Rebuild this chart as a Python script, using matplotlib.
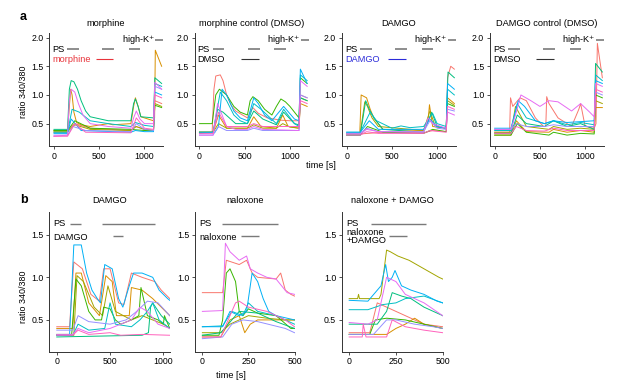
import matplotlib
matplotlib.use("Agg")
import matplotlib.pyplot as plt

plt.rcParams['font.family'] = ['Liberation Sans', 'DejaVu Sans']
plt.rcParams['font.size'] = 6.6

# trace colours, same order in every panel
palette = ['#F8766D', '#D89000', '#A3A500', '#39B600', '#00BF7D',
           '#00BFC4', '#00B0F6', '#9590FF', '#E76BF3', '#FF62BC']

# ---- panel a: morphine ----
a1 = [
    ([0, 150, 170, 230, 400, 850, 900, 1000, 1100, 1115, 1190], [0.35, 0.35, 0.42, 0.50, 0.42, 0.38, 0.45, 0.40, 0.38, 0.90, 0.85]),
    ([0, 150, 170, 185, 200, 220, 250, 300, 400, 600, 650, 850, 880, 900, 930, 960, 1100, 1112, 1120, 1190], [0.38, 0.38, 0.8, 1.1, 1.0, 0.7, 0.52, 0.48, 0.45, 0.5, 0.48, 0.5, 0.8, 0.95, 0.8, 0.62, 0.55, 0.6, 1.78, 1.5]),
    ([0, 150, 230, 400, 850, 910, 1000, 1100, 1115, 1190], [0.36, 0.36, 0.48, 0.40, 0.38, 0.45, 0.40, 0.38, 0.85, 0.80]),
    ([0, 150, 230, 400, 850, 1000, 1100, 1115, 1190], [0.38, 0.38, 0.55, 0.42, 0.4, 0.38, 0.38, 0.82, 0.78]),
    ([0, 150, 170, 190, 220, 260, 300, 350, 400, 600, 850, 880, 900, 930, 960, 1100, 1115, 1190], [0.4, 0.4, 1.1, 1.25, 1.23, 1.1, 0.9, 0.72, 0.62, 0.55, 0.55, 0.85, 0.93, 0.8, 0.62, 0.6, 1.3, 1.2]),
    ([0, 150, 200, 280, 400, 600, 850, 900, 1000, 1100, 1115, 1190], [0.35, 0.35, 0.75, 0.7, 0.55, 0.5, 0.45, 0.52, 0.47, 0.45, 1.2, 1.15]),
    ([0, 150, 190, 300, 850, 900, 1000, 1100, 1115, 1190], [0.33, 0.33, 0.58, 0.38, 0.35, 0.38, 0.36, 0.36, 1.05, 1.0]),
    ([0, 150, 210, 350, 850, 910, 1000, 1100, 1115, 1190], [0.3, 0.3, 0.45, 0.38, 0.36, 0.5, 0.4, 0.38, 1.15, 1.1]),
    ([0, 150, 170, 190, 230, 270, 320, 400, 600, 850, 880, 910, 950, 1000, 1100, 1115, 1190], [0.28, 0.3, 0.9, 1.1, 1.05, 0.85, 0.65, 0.5, 0.45, 0.42, 0.6, 0.72, 0.58, 0.5, 0.5, 1.22, 1.1]),
    ([0, 150, 230, 350, 850, 910, 1000, 1100, 1115, 1190], [0.28, 0.28, 0.5, 0.35, 0.34, 0.6, 0.42, 0.4, 1.0, 0.95]),
]

# ---- morphine control (DMSO) ----
a2 = [
    ([0, 140, 160, 180, 230, 260, 300, 350, 400, 530, 560, 590, 650, 750, 900, 1000, 1100, 1115, 1190], [0.35, 0.35, 1.1, 1.33, 1.35, 1.25, 1.0, 0.82, 0.72, 0.6, 0.7, 0.78, 0.68, 0.6, 0.56, 0.55, 0.55, 1.0, 0.95]),
    ([0, 150, 210, 300, 530, 600, 680, 850, 920, 980, 1100, 1115, 1190], [0.35, 0.35, 0.65, 0.42, 0.42, 0.62, 0.45, 0.42, 0.65, 0.45, 0.42, 0.85, 0.8]),
    ([0, 150, 210, 300, 530, 600, 700, 850, 920, 1000, 1100, 1115, 1190], [0.35, 0.35, 0.5, 0.42, 0.42, 0.48, 0.42, 0.42, 0.5, 0.44, 0.42, 0.95, 0.9]),
    ([0, 140, 180, 220, 300, 380, 450, 530, 560, 590, 650, 720, 800, 850, 900, 950, 1000, 1100, 1115, 1190], [0.5, 0.5, 1.0, 1.1, 1.0, 0.8, 0.7, 0.65, 0.9, 0.97, 0.9, 0.75, 0.65, 0.8, 0.93, 0.88, 0.8, 0.6, 1.3, 1.2]),
    ([0, 150, 200, 260, 400, 530, 600, 700, 850, 930, 1050, 1100, 1115, 1190], [0.35, 0.35, 0.75, 0.7, 0.5, 0.5, 0.72, 0.58, 0.48, 0.7, 0.5, 0.48, 0.95, 0.9]),
    ([0, 150, 230, 300, 380, 450, 530, 600, 680, 850, 930, 1050, 1100, 1115, 1190], [0.35, 0.35, 1.05, 0.9, 0.65, 0.55, 0.5, 0.85, 0.75, 0.5, 0.75, 0.5, 0.45, 1.35, 1.25]),
    ([0, 170, 210, 250, 300, 380, 450, 530, 600, 650, 720, 800, 930, 1050, 1100, 1115, 1190], [0.33, 0.35, 0.45, 1.1, 1.0, 0.72, 0.6, 0.55, 0.95, 0.85, 0.65, 0.55, 0.8, 0.58, 0.55, 1.45, 1.2]),
    ([0, 150, 210, 300, 530, 600, 700, 1100, 1115, 1190], [0.3, 0.3, 0.45, 0.38, 0.38, 0.42, 0.38, 0.38, 1.0, 0.95]),
    ([0, 150, 200, 300, 400, 530, 600, 700, 1100, 1115, 1190], [0.3, 0.3, 0.85, 0.45, 0.4, 0.4, 0.45, 0.4, 0.38, 1.25, 1.15]),
    ([0, 150, 210, 300, 530, 600, 700, 1100, 1115, 1190], [0.33, 0.33, 0.7, 0.45, 0.45, 0.5, 0.45, 0.45, 0.9, 0.85]),
]

# ---- DAMGO ----
a3 = [
    ([0, 150, 400, 850, 950, 1100, 1115, 1150, 1190], [0.32, 0.32, 0.35, 0.34, 0.38, 0.36, 1.3, 1.5, 1.45]),
    ([0, 145, 160, 220, 260, 300, 400, 850, 900, 915, 950, 1100, 1115, 1190], [0.33, 0.33, 1.0, 0.95, 0.75, 0.6, 0.4, 0.38, 0.55, 0.83, 0.45, 0.42, 0.95, 0.85]),
    ([0, 150, 200, 230, 280, 350, 850, 920, 980, 1100, 1115, 1190], [0.33, 0.33, 0.88, 0.8, 0.6, 0.45, 0.38, 0.72, 0.45, 0.42, 0.9, 0.82]),
    ([0, 150, 230, 400, 850, 950, 1100, 1115, 1190], [0.3, 0.3, 0.45, 0.35, 0.33, 0.4, 0.36, 0.85, 0.8]),
    ([0, 150, 210, 250, 300, 400, 850, 900, 940, 1000, 1100, 1120, 1190], [0.3, 0.3, 0.9, 0.75, 0.6, 0.4, 0.35, 0.55, 0.7, 0.45, 0.42, 1.4, 1.3]),
    ([0, 150, 260, 330, 500, 600, 700, 850, 950, 1000, 1100, 1115, 1190], [0.35, 0.35, 0.7, 0.55, 0.42, 0.46, 0.43, 0.45, 0.68, 0.5, 0.45, 1.1, 1.0]),
    ([0, 150, 250, 350, 850, 920, 1000, 1100, 1115, 1190], [0.35, 0.35, 0.55, 0.4, 0.4, 0.58, 0.45, 0.42, 1.2, 1.1]),
    ([0, 150, 220, 350, 850, 920, 1000, 1100, 1115, 1190], [0.33, 0.33, 0.42, 0.36, 0.36, 0.55, 0.42, 0.4, 0.75, 0.72]),
    ([0, 150, 220, 350, 850, 900, 950, 1100, 1115, 1190], [0.32, 0.32, 0.4, 0.36, 0.35, 0.6, 0.5, 0.42, 0.7, 0.65]),
    ([0, 150, 220, 350, 850, 920, 1100, 1115, 1190], [0.3, 0.3, 0.36, 0.33, 0.33, 0.38, 0.35, 0.8, 0.75]),
]

# ---- DAMGO control (DMSO) ----
a4 = [
    ([0, 165, 175, 200, 280, 350, 450, 540, 565, 575, 600, 700, 850, 930, 950, 1000, 1100, 1120, 1135, 1190], [0.35, 0.35, 0.95, 0.8, 0.95, 0.9, 0.6, 0.45, 0.45, 0.97, 0.85, 0.6, 0.45, 0.75, 0.85, 0.45, 0.42, 0.5, 1.9, 1.3]),
    ([0, 180, 240, 350, 600, 650, 800, 950, 1100, 1115, 1190], [0.3, 0.3, 0.55, 0.36, 0.35, 0.4, 0.35, 0.38, 0.35, 0.78, 0.78]),
    ([0, 180, 230, 350, 600, 650, 800, 950, 1100, 1115, 1190], [0.35, 0.35, 0.8, 0.45, 0.4, 0.45, 0.4, 0.42, 0.4, 0.9, 0.85]),
    ([0, 180, 250, 350, 600, 650, 800, 950, 1100, 1115, 1190], [0.3, 0.3, 0.5, 0.35, 0.3, 0.35, 0.3, 0.33, 0.32, 1.0, 0.95]),
    ([0, 180, 250, 350, 550, 650, 800, 950, 1100, 1115, 1190], [0.33, 0.33, 0.65, 0.5, 0.45, 0.55, 0.45, 0.5, 0.4, 1.55, 1.4]),
    ([0, 180, 250, 350, 550, 650, 800, 950, 1100, 1115, 1190], [0.38, 0.38, 0.85, 0.6, 0.5, 0.55, 0.48, 0.52, 0.48, 1.35, 1.25]),
    ([0, 180, 260, 330, 450, 550, 650, 800, 1100, 1115, 1190], [0.42, 0.42, 0.9, 0.8, 0.55, 0.5, 0.55, 0.52, 0.55, 1.25, 1.2]),
    ([0, 180, 240, 350, 550, 650, 800, 1100, 1115, 1190], [0.4, 0.4, 0.5, 0.45, 0.45, 0.48, 0.45, 0.45, 1.05, 1.0]),
    ([0, 180, 230, 290, 400, 500, 600, 700, 850, 950, 1050, 1100, 1115, 1190], [0.4, 0.4, 0.65, 1.0, 0.9, 0.8, 0.9, 0.88, 0.72, 0.85, 0.7, 0.62, 1.2, 1.15]),
    ([0, 180, 240, 350, 550, 650, 800, 1100, 1115, 1190], [0.33, 0.33, 0.45, 0.38, 0.37, 0.42, 0.38, 0.38, 1.1, 1.05]),
]

# ---- panel b: DAMGO ----
b1 = [
    ([0, 120, 160, 240, 320, 400, 440, 500, 580, 630, 700, 800, 920, 980, 1060], [0.42, 0.42, 1.18, 1.1, 0.8, 0.72, 1.1, 1.1, 0.7, 0.68, 1.05, 1.0, 0.95, 0.85, 0.75]),
    ([0, 150, 180, 230, 300, 400, 460, 520, 560, 680, 700, 800, 900, 980, 1060], [0.4, 0.4, 1.05, 1.05, 0.7, 0.55, 1.02, 0.95, 0.55, 0.55, 0.88, 0.85, 0.75, 0.65, 0.55]),
    ([0, 160, 190, 250, 350, 430, 480, 550, 700, 800, 900, 1000, 1060], [0.32, 0.32, 1.02, 0.95, 0.65, 0.55, 0.9, 0.6, 0.5, 0.55, 0.5, 0.45, 0.4]),
    ([0, 140, 180, 230, 300, 360, 420, 440, 500, 550, 600, 700, 770, 790, 850, 950, 1000, 1010, 1060], [0.33, 0.33, 0.98, 0.9, 0.6, 0.5, 0.5, 0.65, 0.63, 0.5, 0.45, 0.5, 0.55, 0.88, 0.55, 0.5, 0.45, 0.55, 0.4]),
    ([0, 800, 860, 880, 900, 980, 1060], [0.3, 0.32, 0.35, 0.65, 0.7, 0.55, 0.45]),
    ([0, 150, 200, 300, 450, 500, 550, 700, 780, 850, 900, 960, 1060], [0.32, 0.32, 0.45, 0.38, 0.4, 0.7, 0.45, 0.42, 0.5, 0.6, 0.7, 0.5, 0.4]),
    ([0, 120, 160, 230, 280, 330, 380, 410, 450, 520, 580, 620, 680, 720, 800, 900, 960, 1040, 1060], [0.32, 0.32, 1.38, 1.38, 1.05, 0.85, 0.75, 0.7, 1.15, 1.1, 0.75, 0.65, 0.9, 1.05, 1.05, 1.0, 0.85, 0.75, 0.73]),
    ([0, 150, 200, 300, 500, 650, 750, 850, 950, 1060], [0.38, 0.38, 0.55, 0.48, 0.45, 0.5, 0.6, 0.72, 0.7, 0.55]),
    ([0, 150, 200, 300, 500, 700, 780, 850, 950, 1060], [0.33, 0.33, 0.4, 0.35, 0.4, 0.5, 0.65, 0.6, 0.45, 0.4]),
    ([0, 150, 200, 300, 500, 600, 800, 1060], [0.32, 0.32, 0.38, 0.33, 0.35, 0.32, 0.33, 0.32]),
]

# ---- naloxone ----
b2 = [
    ([0, 110, 130, 200, 240, 270, 300, 400, 425, 450, 480, 500], [0.82, 0.82, 1.2, 1.15, 1.2, 1.05, 1.0, 0.98, 1.05, 0.85, 0.8, 0.78]),
    ([0, 100, 150, 200, 230, 260, 300, 400, 500], [0.3, 0.3, 0.5, 0.55, 0.35, 0.45, 0.5, 0.5, 0.5]),
    ([0, 100, 150, 250, 350, 450, 500], [0.35, 0.35, 0.45, 0.55, 0.52, 0.5, 0.5]),
    ([0, 90, 110, 130, 150, 180, 200, 220, 250, 300, 400, 480, 500], [0.32, 0.32, 0.5, 1.05, 1.1, 0.95, 0.6, 0.55, 0.63, 0.58, 0.55, 0.4, 0.4]),
    ([0, 100, 200, 300, 400, 500], [0.32, 0.35, 0.6, 0.58, 0.48, 0.4]),
    ([0, 110, 160, 220, 250, 300, 400, 450, 500], [0.42, 0.43, 0.6, 0.55, 0.7, 0.6, 0.55, 0.5, 0.45]),
    ([0, 110, 150, 200, 240, 270, 300, 330, 360, 400, 500], [0.42, 0.42, 0.6, 0.55, 0.6, 1.05, 0.95, 0.75, 0.6, 0.55, 0.5]),
    ([0, 110, 160, 220, 300, 450, 500], [0.28, 0.3, 0.45, 0.5, 0.48, 0.4, 0.35]),
    ([0, 110, 125, 150, 200, 240, 260, 300, 350, 400, 430, 460, 500], [0.6, 0.61, 1.4, 1.3, 1.2, 1.25, 1.1, 1.05, 1.0, 0.98, 0.9, 0.82, 0.8]),
    ([0, 100, 180, 200, 250, 350, 450, 500], [0.3, 0.3, 0.7, 0.72, 0.65, 0.6, 0.5, 0.42]),
]

# ---- naloxone + DAMGO ----
b3 = [
    ([0, 110, 150, 200, 250, 300, 400, 500], [0.35, 0.35, 0.7, 0.65, 0.6, 0.55, 0.45, 0.42]),
    ([0, 200, 250, 300, 350, 400, 500], [0.33, 0.33, 0.4, 0.45, 0.52, 0.45, 0.4]),
    ([0, 45, 50, 55, 160, 170, 200, 220, 260, 320, 400, 480, 500], [0.75, 0.75, 0.8, 0.75, 0.75, 0.8, 1.32, 1.3, 1.25, 1.2, 1.1, 1.0, 0.98]),
    ([0, 110, 140, 200, 300, 400, 500], [0.33, 0.33, 0.5, 0.52, 0.5, 0.45, 0.4]),
    ([0, 150, 200, 230, 280, 330, 400, 500], [0.45, 0.45, 0.6, 0.82, 0.78, 0.75, 0.65, 0.55]),
    ([0, 100, 180, 250, 300, 400, 500], [0.62, 0.62, 0.68, 0.7, 0.75, 0.78, 0.7]),
    ([0, 100, 170, 195, 210, 230, 245, 280, 330, 400, 470, 500], [0.73, 0.72, 0.9, 1.15, 0.95, 1.0, 1.08, 0.9, 0.85, 0.8, 0.72, 0.7]),
    ([0, 130, 200, 250, 350, 450, 500], [0.33, 0.33, 0.5, 0.5, 0.45, 0.42, 0.4]),
    ([0, 100, 150, 200, 250, 300, 350, 400, 480, 500], [0.47, 0.45, 0.5, 1.0, 0.95, 0.8, 0.75, 0.7, 0.58, 0.55]),
    ([0, 70, 75, 90, 200, 230, 300, 400, 500], [0.3, 0.3, 0.45, 0.3, 0.3, 0.5, 0.42, 0.38, 0.35]),
]

titles_a = ['morphine', 'morphine control (DMSO)', 'DAMGO', 'DAMGO control (DMSO)']
titles_b = ['DAMGO', 'naloxone', 'naloxone + DAMGO']

# application periods (s)
ps_a = [(145, 275), (535, 665), (828, 955)]
highk_a = (1120, 1205)
drug_a = (460, 655)
drug_a_name = ['morphine', 'DMSO', 'DAMGO', 'DMSO']
drug_a_color = ['#E8333A', '#333333', '#2B2BD9', '#333333']

ps_b = [[(125, 225), (422, 921)], [(109, 408)], [(115, 411)]]
drug_b = [(525, 625), (210, 308), (213, 311)]
drug_b_name = ['DAMGO', 'naloxone', 'naloxone\n+DAMGO']

W, H = 617, 385
fig = plt.figure(figsize=(W / 100, H / 100), dpi=100)


def axes_px(left, top, right, bottom):
    return fig.add_axes([left / W, 1 - bottom / H, (right - left) / W, (bottom - top) / H])


def style(ax):
    for s in ['top', 'right']:
        ax.spines[s].set_visible(False)
    for s in ['left', 'bottom']:
        ax.spines[s].set_color('#333333')
        ax.spines[s].set_linewidth(0.7)
    ax.tick_params(length=2.5, width=0.6, pad=1.5, labelsize=6.3, color='#333333')


bar_gray = '#7a7a7a'

# ---- row a ----
for i, (traces, left) in enumerate(zip([a1, a2, a3, a4], [49, 194.5, 341.7, 489.7])):
    ax = axes_px(left, 33, left + 114, 146)
    for k, (t, v) in enumerate(traces):
        ax.plot(t, v, color=palette[k], lw=0.7)
    ax.set_xlim(-55, 1205)
    ax.set_ylim(0.11, 2.08)
    ax.set_xticks([0, 500, 1000])
    ax.set_yticks([0.5, 1.0, 1.5, 2.0])
    ax.set_yticklabels(['0.5', '1.0', '1.5', '2.0'])
    style(ax)
    ax.set_title(titles_a[i], fontsize=6.7, pad=5)
    ax.text(-20, 1.80, 'PS', va='center', ha='left')
    for s, e in ps_a:
        ax.plot([s, e], [1.80, 1.80], color=bar_gray, lw=1.2, solid_capstyle='butt')
    ax.text(1115, 1.95, 'high-K$^{+}$', va='center', ha='right')
    ax.plot(highk_a, [1.95, 1.95], color=bar_gray, lw=1.2, solid_capstyle='butt')
    ax.text(-20, 1.62, drug_a_name[i], va='center', ha='left',
            color=drug_a_color[i] if i in (0, 2) else 'black')
    ax.plot(drug_a, [1.62, 1.62], color=drug_a_color[i], lw=0.8, solid_capstyle='butt')

fig.text(24 / W, 1 - 92 / H, 'ratio 340/380', rotation=90, ha='center', va='center', fontsize=6.4)
fig.text(321 / W, 1 - 166 / H, 'time [s]', ha='center', va='center')

# ---- row b ----
b_boxes = [(49.3, 170.3, (-70, 1065), [0, 500, 1000]),
           (195, 294.5, (-40, 500), [0, 250, 500]),
           (341.7, 442.7, (-40, 500), [0, 250, 500])]
for i, (traces, (l, r, xl, xt)) in enumerate(zip([b1, b2, b3], b_boxes)):
    ax = axes_px(l, 211.7, r, 351.7)
    for k, (t, v) in enumerate(traces):
        ax.plot(t, v, color=palette[k], lw=0.7)
    ax.set_xlim(*xl)
    ax.set_ylim(0.127, 1.77)
    ax.set_xticks(xt)
    ax.set_yticks([0.5, 1.0, 1.5])
    ax.set_yticklabels(['0.5', '1.0', '1.5'])
    style(ax)
    ax.set_title(titles_b[i], fontsize=6.7, pad=6)
    x0 = -0.03 * (xl[1] - xl[0])
    ax.text(x0, 1.63, 'PS', va='center', ha='left')
    for s, e in ps_b[i]:
        ax.plot([s, e], [1.63, 1.63], color=bar_gray, lw=1.0, solid_capstyle='butt')
    if i == 2:
        ax.text(x0, 1.48, drug_b_name[i], va='center', ha='left', linespacing=0.9)
    else:
        ax.text(x0, 1.47, drug_b_name[i], va='center', ha='left')
    ax.plot(drug_b[i], [1.48, 1.48], color=bar_gray, lw=1.0, solid_capstyle='butt')

fig.text(24 / W, 1 - 297 / H, 'ratio 340/380', rotation=90, ha='center', va='center', fontsize=6.4)
fig.text(231 / W, 1 - 375 / H, 'time [s]', ha='center', va='center')

fig.text(23 / W, 1 - 17 / H, 'a', fontsize=9, fontweight='bold', ha='center', va='center')
fig.text(24 / W, 1 - 200 / H, 'b', fontsize=9, fontweight='bold', ha='center', va='center')

fig.savefig('out.png', dpi=100)
